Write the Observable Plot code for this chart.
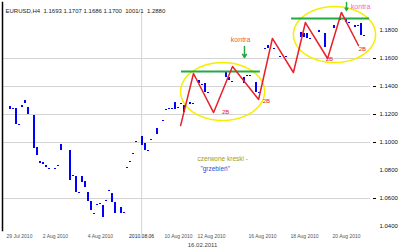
<!DOCTYPE html>
<html><head><meta charset="utf-8">
<script src="https://cdn.jsdelivr.net/npm/d3@7"></script>
<script src="https://cdn.jsdelivr.net/npm/@observablehq/plot@0.6"></script>
<style>body{margin:0;background:#fff} svg{display:block}</style>
</head><body><div id="chart"></div>
<script>
// ---- data ----
const titleText = "EURUSD,H4  1.1693 1.1707 1.1686 1.1700  1001/1  1.2880";
const captionText = "16.02.2011";

const barIndex = [3,4,5,6,7,8,9,11,12,13,14,15,16,18,19,20,23,24,25,26,27,28,29,30,31,32,33,34,35,36,37,38,40,41,42,43,44,45,47,48,49,50,52,54,55,56,57,58,59,60,61,63,64,66,67,68,69,75,76,77,81,82,83,85,86,88,89,91,93,95,100,101,102,103,106,108,111,113,115,116,118,119,120,121];
const barHigh = [1.1257,1.1243,1.1243,1.1129,1.1264,1.1300,1.1250,1.1193,1.0964,1.0864,1.0857,1.0836,1.0814,1.0814,1.0836,1.0986,1.0943,1.0764,1.0757,1.0643,1.0757,1.0721,1.0643,1.0579,1.0493,1.0557,1.0564,1.0550,1.0586,1.0657,1.0636,1.0571,1.0536,1.0500,1.0821,1.0864,1.0921,1.1007,1.1043,1.0993,1.0943,1.1021,1.1100,1.1157,1.1236,1.1243,1.1243,1.1286,1.1250,1.1279,1.1264,1.1286,1.1279,1.1443,1.1414,1.1421,1.1357,1.1500,1.1464,1.1436,1.1464,1.1479,1.1479,1.1429,1.1357,1.1671,1.1693,1.1671,1.1614,1.1614,1.1786,1.1779,1.1779,1.1743,1.1800,1.1779,1.1836,1.1879,1.1886,1.1857,1.1836,1.1836,1.1850,1.1764];
const barLow = [1.1236,1.1236,1.1129,1.1121,1.1250,1.1279,1.1200,1.0957,1.0907,1.0850,1.0843,1.0821,1.0807,1.0807,1.0829,1.0943,1.0729,1.0757,1.0643,1.0636,1.0714,1.0679,1.0579,1.0514,1.0486,1.0550,1.0557,1.0464,1.0579,1.0650,1.0571,1.0493,1.0493,1.0493,1.0814,1.0857,1.0914,1.1000,1.0979,1.0943,1.0936,1.1014,1.1057,1.1150,1.1229,1.1236,1.1236,1.1236,1.1243,1.1271,1.1214,1.1271,1.1271,1.1421,1.1407,1.1357,1.1350,1.1464,1.1443,1.1429,1.1421,1.1471,1.1471,1.1357,1.1350,1.1664,1.1671,1.1664,1.1607,1.1607,1.1750,1.1750,1.1743,1.1736,1.1786,1.1679,1.1814,1.1871,1.1857,1.1850,1.1821,1.1829,1.1764,1.1757];

// red "comb" zigzag
const zigIndex = [59.7,64,70.7,77,85.7,90.3,97.3,101.3,108.7,113.3,119];
const zigPrice = [1.1121,1.1493,1.1214,1.1543,1.1307,1.1743,1.1500,1.1857,1.1600,1.1929,1.1693];

// green resistance lines
const greenPrice = [1.1507,1.1886];
const greenFrom = [60,96.7];
const greenTo = [86.3,122.7];

// yellow ellipses: centre index, centre price, radius in bars, radius in price
const ellCx = [73.7,111];
const ellCy = [1.1364,1.1771];
const ellRx = [14,13.7];
const ellRy = [0.0207,0.0200];

// labels
const tagIndex = [74.7,88.3,109.3,120.3];
const tagPrice = [1.1214,1.1293,1.1593,1.1664];
const kontraIndex = [79.7,119.7];
const kontraPrice = [1.1736,1.1971];
const kontraColor = ["#f05a3c","#f266c4"];
const arrowIndex = [81,115];
const arrowTop = [1.1686,1.2000];
const arrowBottom = [1.1607,1.1943];
const noteIndex = [65.3,66.3];
const notePrice = [1.0886,1.0814];
const noteText = ["czerwone kreski -","\"grzebień\""];
const noteColor = ["#9aa025","#3050c8"];

const priceTicks = [1.18,1.16,1.14,1.12,1.10,1.08,1.06,1.04];
const gridPrices = [1.16,1.14,1.12,1.10,1.06];
const dayIndex = [46.7];
const timeTickIndex = [6,18,33,46.7,59,70,87,101,115];
const timeTickLabels = ["29 Jul 2010","2 Aug 2010","4 Aug 2010","2010.08.06","10 Aug 2010","12 Aug 2010","16 Aug 2010","18 Aug 2010","20 Aug 2010"];

// ---- build tables ----
const bars = barIndex.map((d,k)=>({i:d, hi:barHigh[k], lo:barLow[k]}));
const zig = zigIndex.map((d,k)=>({i:d, p:zigPrice[k]}));
const greens = greenPrice.map((p,k)=>({p, a:greenFrom[k], b:greenTo[k]}));
const ellipses = [];
ellCx.forEach((cx,k)=>{
  for (let t=0;t<=72;t++){
    const a = t/72*2*Math.PI;
    ellipses.push({e:k, i:cx+ellRx[k]*Math.cos(a), p:ellCy[k]+ellRy[k]*Math.sin(a)});
  }
});
const tags = tagIndex.map((d,k)=>({i:d,p:tagPrice[k]}));
const kontras = kontraIndex.map((d,k)=>({i:d,p:kontraPrice[k],c:kontraColor[k]}));
const arrows = arrowIndex.map((d,k)=>({i:d,a:arrowTop[k],b:arrowBottom[k]}));
const notes = noteIndex.map((d,k)=>({i:d,p:notePrice[k],t:noteText[k],c:noteColor[k]}));
const timeTicks = timeTickIndex.map((d,k)=>({i:d,t:timeTickLabels[k],bold:timeTickLabels[k]==="2010.08.06"}));

const font = "Liberation Sans, Arial, sans-serif";

const chart = Plot.plot({
  width: 400, height: 250,
  marginLeft: 2, marginRight: 30, marginTop: 2, marginBottom: 20,
  style: {fontFamily: font, background: "#fff", overflow: "visible"},
  x: {domain: [0,121], range: [1,364], axis: null},
  y: {domain: [1.04,1.18], range: [226,30], axis: null},
  marks: [
    Plot.gridY(gridPrices, {stroke:"#d4d4d4", strokeOpacity:1, strokeWidth:1}),
    Plot.gridX(dayIndex, {stroke:"#d4d4d4", strokeOpacity:1, y1:1.1929, y2:1.0343}),
    Plot.frame({anchor:"left", stroke:"#000", strokeWidth:1.5}),
    Plot.axisY(gridPrices, {anchor:"right", tickSize:3, dx:2, tickFormat:()=>"", stroke:"#000"}),
    Plot.axisY(priceTicks, {anchor:"right", tickSize:0, tickPadding:9, tickFormat:d3.format(".4f"), fontSize:6, fill:"#111", textAnchor:"start"}),
    Plot.text(timeTicks, {x:"i", frameAnchor:"bottom", dy:6, text:"t", fontSize:5, fill:d=>d.bold?"#222":"#555", fontWeight:d=>d.bold?"bold":"normal", lineAnchor:"middle"}),
    Plot.text([titleText], {frameAnchor:"top-left", dx:3, dy:6, text:d=>d, fontSize:6, fill:"#222", textAnchor:"start"}),
    Plot.text([captionText], {frameAnchor:"bottom", dx:16, dy:16, text:d=>d, fontSize:6, fill:"#444"}),
    Plot.rect(bars, {x1:d=>d.i-1/3, x2:d=>d.i+1/3, y1:"lo", y2:"hi", fill:"#0000ff", shapeRendering:"crispEdges"}),
    Plot.line(ellipses, {x:"i", y:"p", z:"e", stroke:"#f6ee00", strokeWidth:1.5}),
    Plot.ruleY(greens, {y:"p", x1:"a", x2:"b", stroke:"#22aa44", strokeWidth:2}),
    Plot.line(zig, {x:"i", y:"p", stroke:"#e8202a", strokeWidth:1.5}),
    Plot.text(tags, {x:"i", y:"p", text:()=>"2B", fill:"#e8202a", fontSize:6}),
    Plot.text(kontras, {x:"i", y:"p", text:()=>"kontra", fill:"c", fontSize:7}),
    Plot.arrow(arrows, {x1:"i", x2:"i", y1:"a", y2:"b", stroke:"#22aa44", strokeWidth:1.5, headLength:4}),
    Plot.text(notes, {x:"i", y:"p", text:"t", fill:"c", fontSize:6.5, textAnchor:"start"})
  ]
});
document.getElementById("chart").append(chart);
</script></body></html>
